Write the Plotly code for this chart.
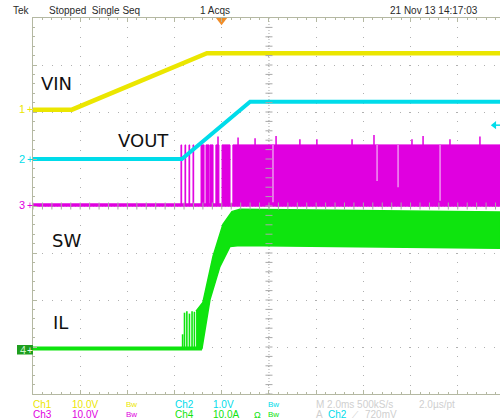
import plotly.graph_objects as go
import numpy as np

# ---------------- data (time in ms, 0 = screen centre, 2.0 ms/div) ----------------
T_LEFT, T_RIGHT = -10.0, 9.79

# Ch1 : VIN (V), 10 V/div
vin_t = [-10.0, -8.35, -2.63, T_RIGHT]
vin_v = [0.0, 0.0, 12.0, 12.0]

# Ch2 : VOUT (V), 1 V/div
vout_t = [-10.0, -3.69, -0.80, T_RIGHT]
vout_v = [0.0, 0.0, 1.22, 1.22]

# Ch3 : SW (V), 10 V/div  -- switching bursts (start / end, ms)
sw_burst_start = [-3.73, -3.56, -3.39, -3.22, -2.88, -2.67, -2.50, -2.25, -1.99, -1.53]
sw_burst_end   = [-3.70, -3.53, -3.36, -3.19, -2.75, -2.54, -2.37, -2.12, -1.65, T_RIGHT]
sw_high = 12.8
sw_spike_t = [-2.16, -1.31, -0.59, 0.30, 1.31, 2.03, 3.52, 4.45, 6.06, 6.53, 7.67, 8.94]
sw_spike_v = [14.6, 14.4, 14.2, 14.7, 14.0, 14.0, 14.0, 14.9, 14.0, 14.7, 14.0, 14.6]
sw_pale_t = [0.17, 4.58, 5.47, 7.25]
sw_pale_low = [0.6, 5.1, 3.8, 0.9]

# Ch4 : IL (A), 10 A/div
il_base_t = [-10.0, -2.84]
il_base_a = [0.0, 0.0]
il_spike_t = [-3.66, -3.58, -3.48, -3.37, -3.26, -3.16]
il_spike_a = [3.0, 7.6, 7.9, 7.4, 7.9, 7.8]
il_up_t = [-3.09, -2.80, -2.37, -1.95, -1.57, -1.23, T_RIGHT]
il_up_a = [7.9, 9.8, 19.6, 26.4, 29.1, 29.6, 29.0]
il_lo_t = [-3.09, -2.84, -2.50, -2.08, -1.65, -1.23, T_RIGHT]
il_lo_a = [0.0, 0.0, 10.4, 17.4, 21.7, 21.9, 21.3]

# channel scale (units/div) and position (div)
CH = {
    1: dict(scale=10.0, pos=2.05, color="#ebe600"),
    2: dict(scale=1.0, pos=1.0, color="#00dcea"),
    3: dict(scale=10.0, pos=0.02, color="#e000e0"),
    4: dict(scale=10.0, pos=-3.03, color="#0ee40e"),
}
TRIG_LEVEL = 0.72  # V on Ch2
TRIG_T = -2.01


def div(ch, vals):
    c = CH[ch]
    return [None if v is None else v / c["scale"] + c["pos"] for v in vals]


fig = go.Figure()

# ---- Ch3 SW ----
fig.add_trace(go.Scatter(x=[T_LEFT, T_RIGHT], y=div(3, [0, 0]), mode="lines",
                         line=dict(color=CH[3]["color"], width=3.5), hoverinfo="skip"))
bx, by = [], []
for s, e in zip(sw_burst_start, sw_burst_end):
    bx += [s, e, e, s, s, None]
    by += [0, 0, sw_high, sw_high, 0, None]
fig.add_trace(go.Scatter(x=bx, y=div(3, by), mode="lines", fill="toself",
                         fillcolor=CH[3]["color"], line=dict(color=CH[3]["color"], width=1),
                         hoverinfo="skip"))
sx, sy = [], []
for t, v in zip(sw_spike_t, sw_spike_v):
    sx += [t, t, None]
    sy += [sw_high, v, None]
fig.add_trace(go.Scatter(x=sx, y=div(3, sy), mode="lines",
                         line=dict(color=CH[3]["color"], width=1.5), hoverinfo="skip"))
px_, py_ = [], []
for t, lo in zip(sw_pale_t, sw_pale_low):
    px_ += [t, t, None]
    py_ += [sw_high, lo, None]
fig.add_trace(go.Scatter(x=px_, y=div(3, py_), mode="lines",
                         line=dict(color="#f4b8f4", width=1.2), hoverinfo="skip"))

# ---- Ch4 IL ----
fig.add_trace(go.Scatter(x=il_base_t, y=div(4, il_base_a), mode="lines",
                         line=dict(color=CH[4]["color"], width=4), hoverinfo="skip"))
kx, ky = [], []
for t, a in zip(il_spike_t, il_spike_a):
    kx += [t, t, None]
    ky += [0, a, None]
fig.add_trace(go.Scatter(x=kx, y=div(4, ky), mode="lines",
                         line=dict(color=CH[4]["color"], width=1.6), hoverinfo="skip"))
fig.add_trace(go.Scatter(x=il_up_t + il_lo_t[::-1], y=div(4, il_up_a + il_lo_a[::-1]),
                         mode="lines", fill="toself", fillcolor=CH[4]["color"],
                         line=dict(color=CH[4]["color"], width=1.5), hoverinfo="skip"))

# ---- Ch2 VOUT ----
fig.add_trace(go.Scatter(x=vout_t, y=div(2, vout_v), mode="lines",
                         line=dict(color=CH[2]["color"], width=4), hoverinfo="skip"))
# ---- Ch1 VIN ----
fig.add_trace(go.Scatter(x=vin_t, y=div(1, vin_v), mode="lines",
                         line=dict(color=CH[1]["color"], width=4.5), hoverinfo="skip"))

# ---- centre graticule ticks ----
minor_x = np.arange(-10, 9.8, 0.4)
minor_y = np.arange(-4, 4.01, 0.2)
fig.add_trace(go.Scatter(x=minor_x, y=np.zeros_like(minor_x), mode="markers",
                         marker=dict(symbol="line-ns", size=5, line=dict(color="#a8a8a8", width=1)),
                         hoverinfo="skip"))
fig.add_trace(go.Scatter(x=np.zeros_like(minor_y), y=minor_y, mode="markers",
                         marker=dict(symbol="line-ew", size=5, line=dict(color="#a8a8a8", width=1)),
                         hoverinfo="skip"))

# trigger markers
fig.add_trace(go.Scatter(x=[TRIG_T], y=[3.95], mode="markers", cliponaxis=False,
                         marker=dict(symbol="triangle-down", size=10, color="#f08c28"),
                         hoverinfo="skip"))
fig.add_trace(go.Scatter(x=[9.55, T_RIGHT], y=div(2, [TRIG_LEVEL, TRIG_LEVEL]), mode="lines",
                         line=dict(color=CH[2]["color"], width=1.5), hoverinfo="skip"))
fig.add_trace(go.Scatter(x=[9.55], y=div(2, [TRIG_LEVEL]), mode="markers",
                         marker=dict(symbol="triangle-left", size=7, color=CH[2]["color"]),
                         hoverinfo="skip"))

# ---------------- layout ----------------
W, H = 500, 419
ML, MR, MT, MB = 33, 0, 18, 25
PW, PH = W - ML - MR, H - MT - MB


def pxx(x):
    return (x - ML) / PW


def pxy(y):
    return (H - MB - y) / PH


ann = []


def txt(text, x, y, color, size, anchor="left", family="Liberation Sans, Arial, sans-serif"):
    ann.append(dict(text=text, x=pxx(x), y=pxy(y), xref="paper", yref="paper",
                    xanchor=anchor, yanchor="middle", showarrow=False, borderpad=0,
                    font=dict(color=color, size=size, family=family)))


HDR = "#2a2a2a"
txt("Tek", 12, 10, HDR, 10)
txt("Stopped  Single Seq", 48, 10, HDR, 10)
txt("1 Acqs", 199, 10, HDR, 10)
txt("21 Nov 13 14:17:03", 389, 10, HDR, 10)

LBL = "DejaVu Sans, sans-serif"
txt("VIN", 56, 83, "#111111", 18, "center", LBL)
txt("VOUT", 143, 140, "#111111", 18, "center", LBL)
txt("SW", 66, 240, "#111111", 18, "center", LBL)
txt("IL", 60, 322, "#111111", 18, "center", LBL)

# channel ground markers
txt("1", 26, 109, CH[1]["color"], 11, "right")
txt("+", 30, 109, CH[1]["color"], 10, "center")
txt("2", 26, 159, CH[2]["color"], 11, "right")
txt("+", 30, 159, CH[2]["color"], 10, "center")
txt("3", 26, 205, CH[3]["color"], 11, "right")
txt("+", 30, 205, CH[3]["color"], 10, "center")
txt("4", 23, 350, "#c8f5c8", 11, "center")
txt("+", 30, 350, "#e8ffe8", 10, "center")

# bottom readout
Y1, Y2 = 404.5, 414.5
c1, c2, c3, c4 = (CH[i]["color"] for i in (1, 2, 3, 4))
GR = "#cfcfcf"
for t, x, y, c, s in [
    ("Ch1", 32, Y1, c1, 10), ("10.0V", 71, Y1, c1, 10), ("Bw", 125, Y1, c1, 8),
    ("Ch2", 174, Y1, c2, 10), ("1.0V", 212, Y1, c2, 10), ("Bw", 267, Y1, c2, 8),
    ("M 2.0ms 500kS/s", 315, Y1, GR, 10), ("2.0µs/pt", 418, Y1, GR, 10),
    ("Ch3", 32, Y2, c3, 10), ("10.0V", 71, Y2, c3, 10), ("Bw", 125, Y2, c3, 8),
    ("Ch4", 174, Y2, c4, 10), ("10.0A", 212, Y2, c4, 10), ("Ω", 253, Y2, c4, 9),
    ("Bw", 267, Y2, c4, 8),
    ("A", 315, Y2, GR, 10), ("Ch2", 327, Y2, c2, 10), ("⟋", 351, Y2, GR, 9),
    ("720mV", 364, Y2, GR, 10),
]:
    txt(t, x, y, c, s)

shapes = [
    dict(type="rect", xref="paper", yref="paper", x0=pxx(17), x1=pxx(33),
         y0=pxy(354.5), y1=pxy(345), fillcolor="#1e9e1e", line=dict(width=0), layer="above"),
    dict(type="line", xref="x", yref="paper", x0=0, x1=0, y0=0, y1=1,
         line=dict(color="#a8a8a8", width=1, dash="1px,2px"), layer="below"),
    dict(type="line", xref="paper", yref="y", x0=0, x1=1, y0=0, y1=0,
         line=dict(color="#a8a8a8", width=1, dash="1px,2px"), layer="below"),
]

BORDER = "#b4b8a2"
fig.update_layout(
    width=W, height=H, margin=dict(l=ML, r=MR, t=MT, b=MB, pad=0, autoexpand=False),
    paper_bgcolor="white", plot_bgcolor="white", showlegend=False,
    annotations=ann, shapes=shapes,
    xaxis=dict(range=[T_LEFT, T_RIGHT], tick0=-10, dtick=2, showticklabels=False,
               automargin=False,
               showgrid=True, gridcolor="#b0b0b0", gridwidth=1, griddash="1px,8.4px",
               zeroline=False, showline=True, linecolor=BORDER, linewidth=1, mirror="ticks",
               ticks="inside", ticklen=4, tickcolor=BORDER,
               minor=dict(dtick=0.4, ticks="inside", ticklen=2, tickcolor=BORDER, showgrid=False),
               fixedrange=True),
    yaxis=dict(range=[-4, 4], tick0=-4, dtick=1, showticklabels=False,
               automargin=False,
               showgrid=True, gridcolor="#b0b0b0", gridwidth=1, griddash="1px,8.4px",
               zeroline=False, showline=True, linecolor=BORDER, linewidth=1,
               ticks="inside", ticklen=4, tickcolor=BORDER,
               minor=dict(dtick=0.2, ticks="inside", ticklen=2, tickcolor=BORDER, showgrid=False),
               fixedrange=True),
)

fig.write_html(
    "out.html",
    config={"displayModeBar": False},
    post_script="document.body.style.margin='0';document.body.style.overflow='hidden';",
)
